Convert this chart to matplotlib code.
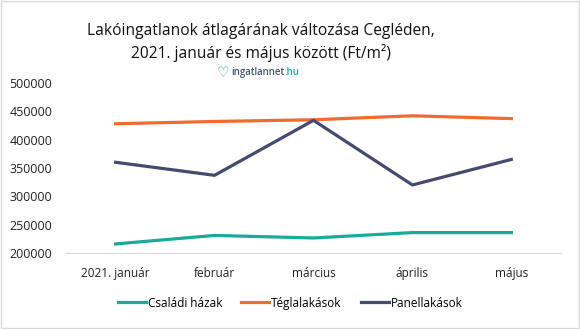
import matplotlib
matplotlib.use("Agg")
import matplotlib.pyplot as plt
from matplotlib.patches import Rectangle

plt.rcParams['font.family'] = ['Open Sans', 'DejaVu Sans']

honapok = ['2021. január', 'február', 'március', 'április', 'május']
csaladi_hazak = [216000, 231000, 226500, 236000, 236000]
teglalakasok = [428000, 432000, 435000, 442000, 437000]
panellakasok = [360000, 337000, 434000, 320000, 365000]

fig = plt.figure(figsize=(5.8, 3.29), dpi=100)
ax = fig.add_axes([0.114, 0.231, 0.853, 0.517])

x = range(len(honapok))
ax.plot(x, csaladi_hazak, color='#1AAA99', lw=2.3, label='Családi házak')
ax.plot(x, teglalakasok, color='#F26A2E', lw=2.3, label='Téglalakások')
ax.plot(x, panellakasok, color='#474A6F', lw=2.3, label='Panellakások')

ax.set_xlim(-0.5, len(honapok) - 0.5)
ax.set_ylim(200000, 500000)
ax.set_yticks(range(200000, 500001, 50000))
ax.set_xticks(list(x))
ax.set_xticklabels(honapok)
ax.tick_params(length=0, colors='#222222')
ax.tick_params(axis='x', labelsize=8.5, pad=10)
ax.tick_params(axis='y', labelsize=9, pad=10)
for s in ['top', 'right', 'left']:
    ax.spines[s].set_visible(False)
ax.spines['bottom'].set_color('#D9D9D9')

fig.text(0.45, 0.905, 'Lakóingatlanok átlagárának változása Cegléden,',
         ha='center', va='center', fontsize=11.2, color='#111111')
fig.text(0.45, 0.84, '2021. január és május között (Ft/m²)',
         ha='center', va='center', fontsize=11.2, color='#111111')

# logo
fig.text(0.384, 0.778, '♡', ha='center', va='center', fontsize=10,
         color='#1AAA99', family='DejaVu Sans', fontweight='bold')
logo = fig.text(0.399, 0.781, 'ingatlannet', ha='left', va='center', fontsize=6.9,
                color='#3D5A66', fontweight='semibold')
ax.annotate('.hu', xy=(1, 0.5), xycoords=logo, ha='left', va='center',
            fontsize=6.9, color='#1AAA99', fontweight='semibold',
            annotation_clip=False)

fig.legend(loc='center', bbox_to_anchor=(0.5, 0.079), ncol=3, frameon=False,
           fontsize=8.5, handlelength=2.4, handletextpad=0.15, columnspacing=1.6)

fig.patches.append(Rectangle((0.002, 0.003), 0.996, 0.994, transform=fig.transFigure,
                             fill=False, edgecolor='#D9D9D9', lw=1))

fig.savefig('out.png', dpi=100)
